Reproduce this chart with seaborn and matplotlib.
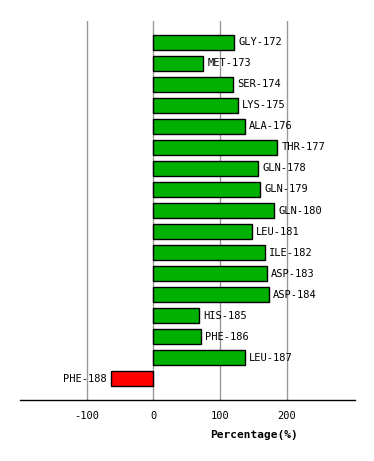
import pandas as pd
import matplotlib.pyplot as plt
import seaborn as sns

# residues and their percentage values
residues = ["GLY-172", "MET-173", "SER-174", "LYS-175", "ALA-176", "THR-177",
            "GLN-178", "GLN-179", "GLN-180", "LEU-181", "ILE-182", "ASP-183",
            "ASP-184", "HIS-185", "PHE-186", "LEU-187", "PHE-188"]
values = [121, 74.5, 119.5, 127, 137.5, 185.5,
          157, 160, 181, 148, 167.5, 170.5,
          173.5, 68.5, 71.5, 137.5, -64]
x_ticks = [-100, 0, 100, 200]

df = pd.DataFrame({"Residue": residues, "Percentage": values})
colors = ["#00B000" if v >= 0 else "#FF0000" for v in values]

sns.set_style("white")
plt.rcParams['font.family'] = ['DejaVu Sans Mono', 'DejaVu Sans']

fig = plt.figure(figsize=(3.74, 4.61), dpi=100)
ax = fig.add_axes([20 / 374, 1 - 400 / 461, 335 / 374, 379 / 461])

# grid lines behind bars
for t in x_ticks:
    ax.axvline(t, color="#999999", lw=1, zorder=0)

sns.barplot(data=df, y="Residue", x="Percentage", hue="Residue",
            palette=colors, legend=False, width=0.71, saturation=1,
            edgecolor="black", linewidth=1, ax=ax, zorder=2)

for i, v in enumerate(values):
    if v >= 0:
        ax.text(v + 6, i, residues[i], va="center", ha="left",
                fontsize=7.5, color="black")
    else:
        ax.text(v - 6, i, residues[i], va="center", ha="right",
                fontsize=7.5, color="black")

ax.set_xlim(-200, 302)
ax.set_ylim(17, -1)
ax.set_xticks(x_ticks)
ax.set_xticklabels([str(t) for t in x_ticks], fontsize=7.5, color="black")
ax.set_yticks([])
ax.set_ylabel("")
ax.set_xlabel("")
ax.tick_params(axis="x", direction="out", length=5, width=1, color="black", pad=3)

for side in ["left", "right", "top"]:
    ax.spines[side].set_visible(False)
ax.spines["bottom"].set_color("black")
ax.spines["bottom"].set_linewidth(1)

ax.text(150, -0.092, "Percentage(%)", transform=ax.get_xaxis_transform(),
        ha="center", va="center", fontsize=8, fontweight="bold", color="black")

fig.savefig("out.png", dpi=100)
